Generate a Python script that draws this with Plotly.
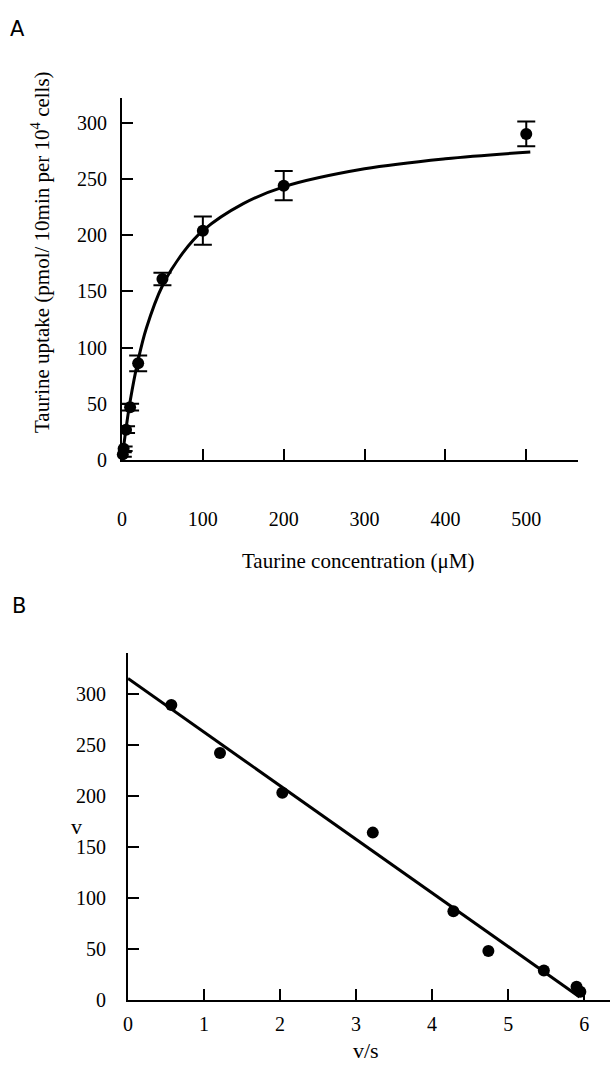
import plotly.graph_objects as go

W, H = 610, 1069

# Panel A data: taurine concentration (uM) vs uptake
conc = [1, 2, 5, 10, 20, 50, 100, 200, 500]
uptake = [5, 10, 27, 47, 86, 161, 204, 244, 290]
uptake_err = [2, 2, 3, 3, 7, 5.5, 12.5, 13, 11]

# Panel A fitted curve
curve_x = [0, 1, 2, 5, 10, 20, 30, 50, 75, 100, 150, 200, 300, 400, 505]
curve_y = [0, 6, 12, 28, 52, 89, 117, 155, 184, 204, 228, 243, 259, 268, 274]

# Panel B data: Eadie-Hofstee plot
vs = [0.57, 1.21, 2.03, 3.22, 4.28, 4.74, 5.47, 5.9, 5.95]
v = [289, 242, 203, 164, 87, 48, 29, 13, 8]
fit_vs = [0, 5.94]
fit_v = [315, 3]

A_xticks = [0, 100, 200, 300, 400, 500]
A_yticks = [0, 50, 100, 150, 200, 250, 300]
B_xticks = [0, 1, 2, 3, 4, 5, 6]
B_yticks = [0, 50, 100, 150, 200, 250, 300]

def px(x):
    return x / W

def py(y):
    return 1 - y / H

SERIF = "Liberation Serif"

fig = go.Figure()

fig.add_trace(go.Scatter(
    x=curve_x, y=curve_y, mode="lines", line=dict(color="black", width=3, shape="spline"),
    xaxis="x", yaxis="y", showlegend=False, hoverinfo="skip", cliponaxis=False))
fig.add_trace(go.Scatter(
    x=conc, y=uptake, mode="markers",
    marker=dict(color="black", size=12),
    error_y=dict(type="data", array=uptake_err, color="black", thickness=2, width=9),
    xaxis="x", yaxis="y", showlegend=False, cliponaxis=False))

fig.add_trace(go.Scatter(
    x=fit_vs, y=fit_v, mode="lines", line=dict(color="black", width=3),
    xaxis="x2", yaxis="y2", showlegend=False, hoverinfo="skip", cliponaxis=False))
fig.add_trace(go.Scatter(
    x=vs, y=v, mode="markers", marker=dict(color="black", size=12),
    xaxis="x2", yaxis="y2", showlegend=False, cliponaxis=False))

axis_common = dict(
    showline=True, linecolor="black", linewidth=2, ticks="inside", ticklen=11,
    tickwidth=2, tickcolor="black", showgrid=False, zeroline=False,
    tickfont=dict(family=SERIF, size=20, color="black"), automargin=False,
)

fig.update_layout(
    template="none",
    font=dict(family=SERIF, size=20, color="black"),
    width=W, height=H, margin=dict(l=0, r=0, t=0, b=0),
    paper_bgcolor="white", plot_bgcolor="white",
    xaxis=dict(domain=[px(122), px(578)], range=[0, 564], anchor="y",
               tickvals=A_xticks, ticklabelstandoff=40, **axis_common),
    yaxis=dict(domain=[py(460), py(98)], range=[0, 322], anchor="x",
               tickvals=A_yticks, ticklabelstandoff=9, **axis_common),
    xaxis2=dict(domain=[px(128), 1.0], range=[0, 6.34], anchor="y2",
                tickvals=B_xticks, ticklabelstandoff=5, **axis_common),
    yaxis2=dict(domain=[py(1000), py(653)], range=[0, 340], anchor="x2",
                tickvals=B_yticks, ticklabelstandoff=16, **axis_common),
)

annots = [
    dict(text="A", x=px(17), y=py(29), font=dict(family="DejaVu Sans", size=21, color="black")),
    dict(text="B", x=px(19), y=py(606), font=dict(family="DejaVu Sans", size=21, color="black")),
    dict(text="Taurine uptake (pmol/ 10min per 10<sup>4</sup> cells)", x=px(40), y=py(252),
         textangle=-90, font=dict(family=SERIF, size=21, color="black")),
    dict(text="Taurine concentration (\u03bcM)", x=px(358), y=py(561),
         font=dict(family=SERIF, size=21, color="black")),
    dict(text="v", x=px(76), y=py(826), font=dict(family=SERIF, size=22, color="black")),
    dict(text="v/s", x=px(366), y=py(1050), font=dict(family=SERIF, size=22, color="black")),
]
for a in annots:
    a.update(xref="paper", yref="paper", showarrow=False, xanchor="center", yanchor="middle")
fig.update_layout(annotations=annots)

fig.write_html("out.html")
